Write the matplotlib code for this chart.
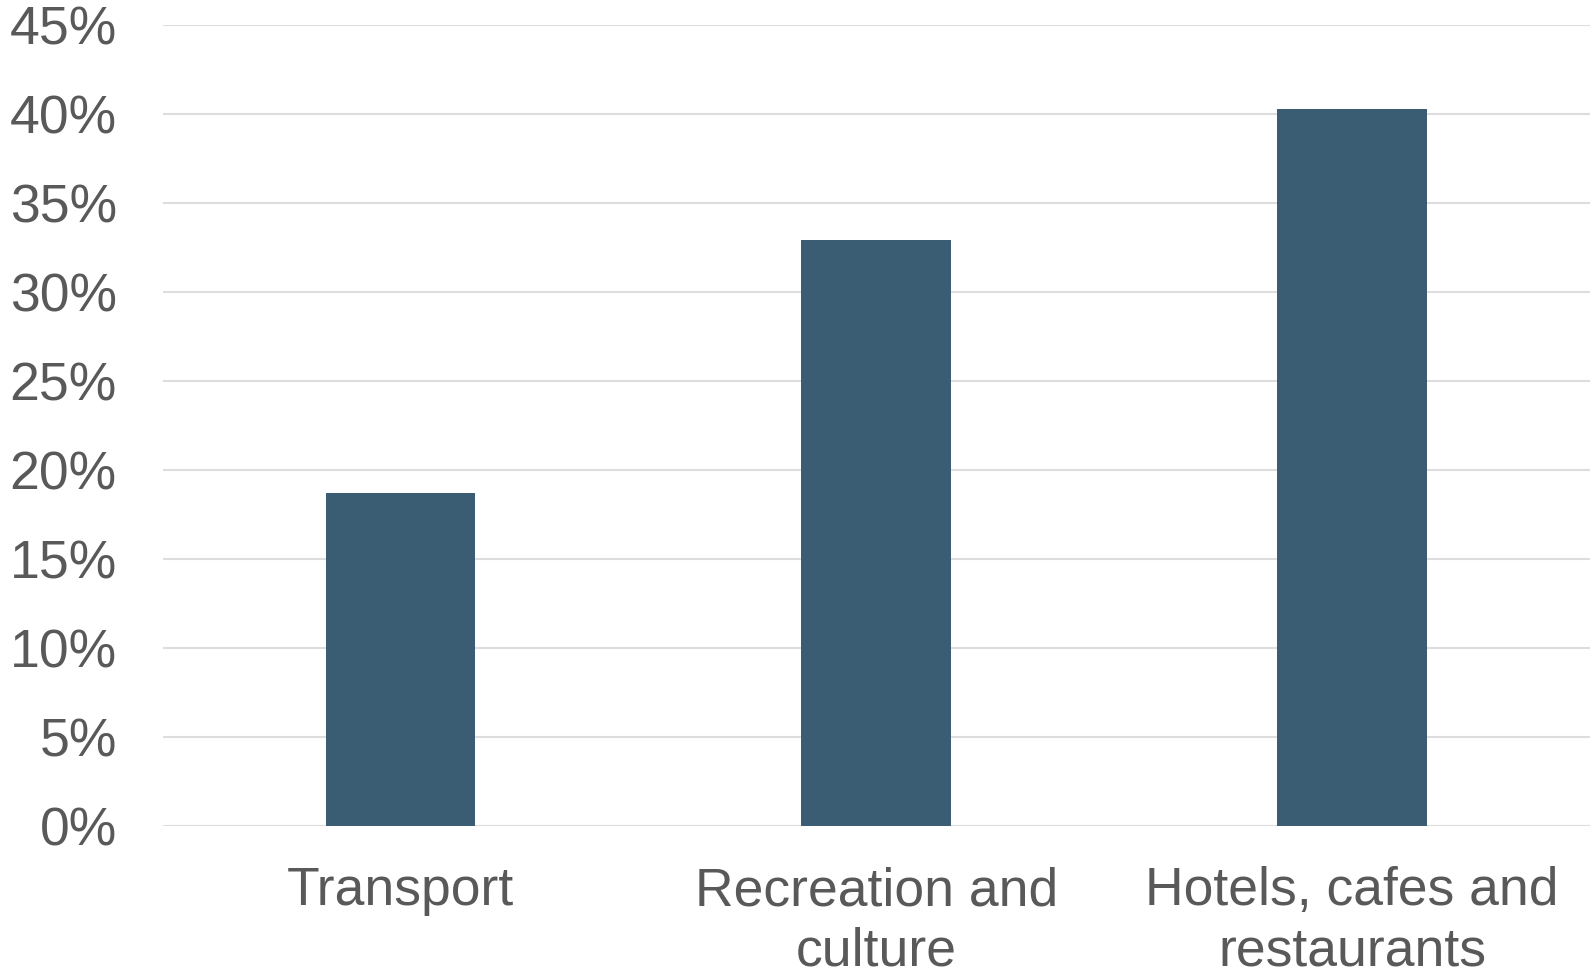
import matplotlib
matplotlib.use("Agg")
import matplotlib.pyplot as plt
from matplotlib.ticker import FuncFormatter, MultipleLocator

categories = ["Transport", "Recreation and\nculture", "Hotels, cafes and\nrestaurants"]
values = [0.187, 0.329, 0.403]

plt.rcParams['font.family'] = ['Liberation Sans', 'DejaVu Sans']

fig = plt.figure(figsize=(15.92, 9.75), dpi=100)
ax = fig.add_axes([0.1022, 0.1528, 0.8964, 0.8216])

x = range(len(categories))
ax.bar(x, values, width=0.315, color="#3A5D74", zorder=3)

ax.set_xlim(-0.5, 2.5)
ax.set_ylim(0, 0.45)
ax.yaxis.set_major_locator(MultipleLocator(0.05))
ax.yaxis.set_major_formatter(FuncFormatter(lambda v, p: f"{round(v*100)}%"))
ax.grid(axis="y", color="#DDDDDD", linewidth=1.5, zorder=0)
for s in ax.spines.values():
    s.set_visible(False)
ax.tick_params(axis="both", length=0, labelsize=38.5, labelcolor="#595959")
ax.tick_params(axis="y", pad=33)
ax.tick_params(axis="x", pad=29)
ax.set_xticks(list(x))
ax.set_xticklabels(categories, linespacing=1.27)

fig.savefig("out.png", dpi=100)
